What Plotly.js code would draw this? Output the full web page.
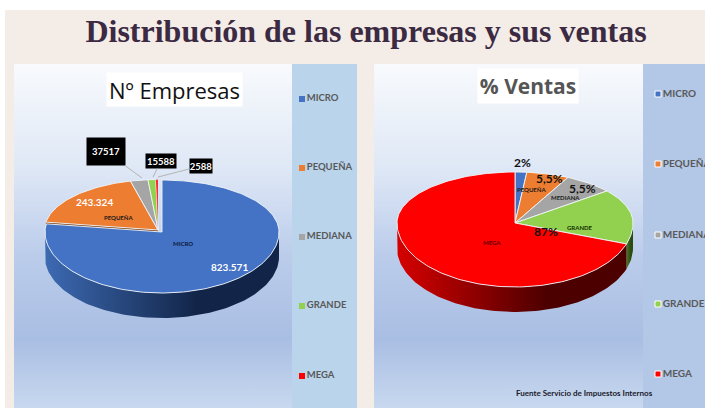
<!DOCTYPE html>
<html><head><meta charset="utf-8">
<script src="https://cdn.plot.ly/plotly-3.0.1.min.js"></script>
<style>html,body{margin:0;padding:0;background:#fff;overflow:hidden}#c{width:705px;height:408px}</style>
</head><body><div id="c"></div>
<script>
const categories = ["MICRO","PEQUEÑA","MEDIANA","GRANDE","MEGA"];
const colors = ["#4472c4","#ed7d31","#a5a5a5","#92d050","#ff0000"];
// slice shares (%) as drawn in the picture
const empresasShares = [77.5,18.6,2.5,1.1,0.3];
const ventasShares = [1.6,5.8,6.8,16.1,69.7];
// printed labels
const empresasLabels = ["823.571","243.324","37517","15588","2588"];
const ventasLabels = ["2%","5,5%","5,5%","87%"];

const wallColors = {MICRO:["#3d6ab3","#122548"],"PEQUEÑA":["#7a3d12","#5a2c0c"],GRANDE:["#4a7a20","#2a4a12"],MEGA:["#d60000","#4d0000"]};
const FONT = "Lato, 'Open Sans', sans-serif";
const d2r = Math.PI/180;

function pt(p,deg,ox,oy,drop,k){
  const c=Math.cos(deg*d2r), s=Math.sin(deg*d2r), f=k||1;
  return [p.cx+(ox||0)+p.rx*f*s, p.cy+(oy||0)-(c>=0?p.up:p.down)*f*c+(drop||0)];
}
function arc(p,a,b,ox,oy,drop,k){
  const out=[]; const n=Math.max(2,Math.ceil(Math.abs(b-a)/1.5));
  for(let i=0;i<=n;i++) out.push(pt(p,a+(b-a)*i/n,ox,oy,drop,k));
  return out;
}
function poly(pts,extra){
  return Object.assign({type:"scatter",mode:"lines",x:pts.map(q=>q[0]),y:pts.map(q=>q[1]),fill:"toself",hoverinfo:"skip",showlegend:false,line:{width:0}},extra);
}
function drawPie(p,shares){
  const tr=[]; let a=0; const sl=[];
  shares.forEach((v,i)=>{sl.push({i,a,b:a+v*3.6});a+=v*3.6;});
  const off=s=>p.explode&&s.i>0?p.explode:[0,0];
  const scl=s=>p.explode&&s.i>0?p.shrink:1;
  const order=p.explode?[1,2,3,4,0]:[0,1,2,3,4];
  order.forEach(k=>{
    const s=sl[k],o=off(s),name=categories[s.i];
    const wc=wallColors[name];
    if(p.explode&&s.i===1){
      const r=pt(p,s.a,o[0],o[1],0,scl(s));
      const ap=[p.cx+o[0],p.cy+o[1]];
      tr.push(poly([ap,r,[r[0],r[1]+3],[ap[0],ap[1]+3]],{fillcolor:wc[0]}));
    }
    const w0=Math.max(s.a,90),w1=Math.min(s.b,270);
    if(w1>w0&&wc){
      const top=arc(p,w0,w1,o[0],o[1]);
      const bot=arc(p,w1,w0,o[0],o[1],p.depth);
      tr.push(poly(top.concat(bot),{fillcolor:wc[1],fillgradient:{type:"horizontal",colorscale:[[0,wc[0]],[0.65,wc[1]],[1,wc[1]]]}}));
    }
  });
  order.forEach(k=>{
    const s=sl[k],o=off(s);
    const pts=[[p.cx+o[0],p.cy+o[1]]].concat(arc(p,s.a,s.b,o[0],o[1],0,scl(s)));
    pts.push(pts[0]);
    tr.push(poly(pts,{fillcolor:colors[s.i],line:{color:"rgba(240,245,250,0.9)",width:s.i===4&&p.explode?0.4:1}}));
  });
  return tr;
}
function panel(x0,x1,y0,y1,extra){
  return poly([[x0,y0],[x1,y0],[x1,y1],[x0,y1],[x0,y0]],extra);
}
const skyScale=[[0,"#f8fafd"],[0.3,"#dfe8f6"],[0.55,"#bccdeb"],[0.8,"#a9bee3"],[1,"#c8d8ef"]];
const traces=[
  panel(14,292,64,408,{fillcolor:"#c8d8ef",fillgradient:{type:"vertical",colorscale:skyScale,start:64,stop:408}}),
  panel(292,357,64,408,{fillcolor:"#bad4ec"}),
  panel(374,643,64,408,{fillcolor:"#c8d8ef",fillgradient:{type:"vertical",colorscale:skyScale,start:64,stop:408}}),
  panel(643,705,64,408,{fillcolor:"#b3c7e6"})
];
const pieA={cx:162,cy:232,rx:117,up:52,down:61,depth:25,explode:[-4,-2],shrink:0.97};
const pieB={cx:515,cy:223,rx:118,up:51,down:64,depth:25};
traces.push(...drawPie(pieA,empresasShares));
traces.push(...drawPie(pieB,ventasShares));

function legend(x,ys,border,fontColor,size){
  return {type:"scatter",mode:"markers+text",x:ys.map(()=>x),y:ys,text:categories,textposition:"middle right",
    hoverinfo:"skip",showlegend:false,cliponaxis:true,
    marker:{symbol:"square",size:6,color:colors,line:{color:border,width:border==="#ffffff"?1:0}},
    textfont:{family:FONT,size:size,color:fontColor,weight:700}};
}
traces.push(legend(302,[99,168,237,306,376],"#bad4ec","#595959",9.5));
traces.push(legend(658,[94,164,235,304,374],"#ffffff","#595959",10));

function lbl(x,y,text,size,color,bold,extra){
  return Object.assign({x,y,xref:"x",yref:"y",text:bold?"<b>"+text+"</b>":text,showarrow:false,xanchor:"center",yanchor:"middle",
    font:{family:FONT,size,color}},extra);
}
function boxed(tx,ty,text,cx,cy,w,h){
  return {x:tx,y:ty,xref:"x",yref:"y",axref:"x",ayref:"y",ax:cx,ay:cy,text:"<b>"+text+"</b>",showarrow:true,arrowhead:0,arrowwidth:1,
    arrowcolor:"#b4b4b4",standoff:0,bgcolor:"#000000",width:w,height:h,borderpad:0,
    font:{family:FONT,size:9.5,color:"#ffffff"}};
}
const annotations=[
  lbl(174.5,89.5,"Nº Empresas",24,"#111111",false,{bgcolor:"#ffffff",width:135,height:33,borderpad:0,font:{family:"'Open Sans',sans-serif",size:22,color:"#111111"}}),
  lbl(528,86,"% Ventas",24,"#555555",true,{bgcolor:"#ffffff",width:100,height:34,borderpad:0,font:{family:"'Open Sans',sans-serif",size:21,color:"#555555"}}),
  lbl(94,202,empresasLabels[1],10,"#ffffff",true),
  lbl(118,217,categories[1],6,"#1a1a1a",true),
  lbl(183,243,categories[0],6,"#0b1a3a",true),
  lbl(229,267,empresasLabels[0],10,"#ffffff",true),
  boxed(142,178,empresasLabels[2],106,151.5,38,27),
  boxed(153,177,empresasLabels[3],161,161,30,14),
  boxed(158,177,empresasLabels[4],201,166,22,14),
  lbl(522,162,ventasLabels[0],12,"#111111",true),
  lbl(549,178,ventasLabels[1],12,"#111111",true),
  lbl(582,188,ventasLabels[2],12,"#111111",true),
  lbl(546,231,ventasLabels[3],12,"#111111",true),
  lbl(531,189,categories[1],6,"#1a1a1a",true),
  lbl(565,197,categories[2],6,"#1a1a1a",true),
  lbl(580,227,categories[3],6,"#123000",true),
  lbl(492,242,categories[4],6,"#5a0000",true),
  lbl(584,393,"Fuente Servicio de Impuestos Internos",8,"#1a1a2a",true)
];
const layout={
  width:705,height:408,margin:{l:0,r:0,t:0,b:0},paper_bgcolor:"#ffffff",plot_bgcolor:"rgba(0,0,0,0)",showlegend:false,
  xaxis:{range:[0,705],visible:false,fixedrange:true},
  yaxis:{range:[408,0],visible:false,fixedrange:true},
  shapes:[{type:"rect",xref:"x",yref:"y",x0:5,x1:705,y0:10,y1:408,layer:"below",fillcolor:"#f4ece7",line:{width:0}}],
  title:{text:"<b>Distribución de las empresas y sus ventas</b>",x:366/705,xref:"paper",xanchor:"center",y:1-31/408,yref:"paper",yanchor:"middle",
    font:{family:"'Liberation Serif',serif",size:32,color:"#3b2a42"}},
  annotations
};
Plotly.newPlot("c",traces,layout,{staticPlot:true,displayModeBar:false});
</script></body></html>
